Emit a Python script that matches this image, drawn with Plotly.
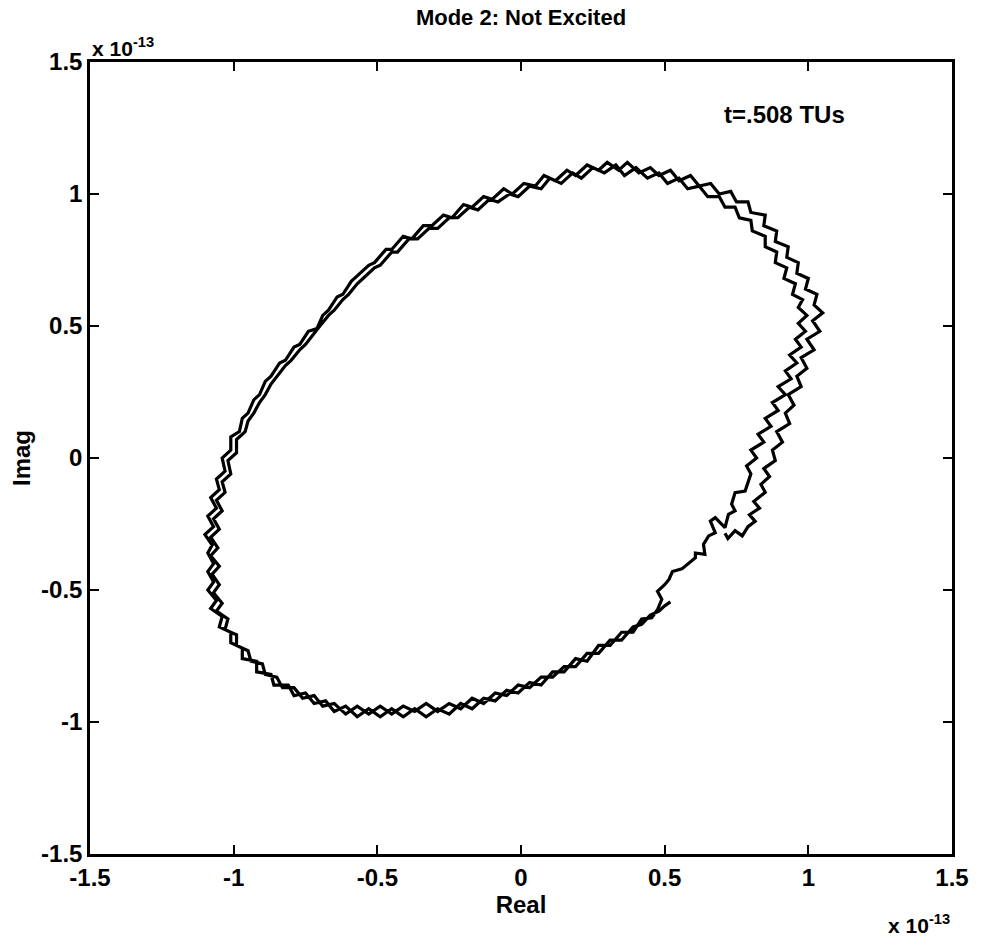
import plotly.graph_objects as go

# trajectory of mode 2 in the complex plane (units of 1e-13)
# first pass, starts at the hook on the lower right and runs counter-clockwise
loop1 = [
    (0.71, -0.285), (0.72, -0.305), (0.745, -0.275), (0.77, -0.295), (0.79, -0.26),
    (0.815, -0.24), (0.795, -0.215), (0.83, -0.19), (0.81, -0.165), (0.85, -0.13),
    (0.835, -0.10), (0.865, -0.07), (0.845, -0.04), (0.885, -0.01), (0.875, 0.03),
    (0.91, 0.06), (0.89, 0.10), (0.935, 0.13), (0.92, 0.17), (0.95, 0.20),
    (0.93, 0.24), (0.975, 0.27), (0.96, 0.31), (0.995, 0.34), (0.975, 0.38),
    (1.02, 0.41), (0.995, 0.45), (1.04, 0.48), (1.015, 0.52), (1.05, 0.55),
    (1.02, 0.58), (1.03, 0.62), (0.99, 0.64), (1.0, 0.68), (0.96, 0.70),
    (0.965, 0.74), (0.925, 0.76), (0.93, 0.80), (0.885, 0.82), (0.89, 0.86),
    (0.845, 0.88), (0.85, 0.92), (0.80, 0.93), (0.79, 0.97), (0.75, 0.97),
    (0.73, 1.01), (0.69, 1.00), (0.66, 1.04), (0.62, 1.03), (0.59, 1.07),
    (0.55, 1.05), (0.52, 1.09), (0.48, 1.07), (0.45, 1.10), (0.41, 1.08),
    (0.37, 1.12), (0.34, 1.09), (0.30, 1.12), (0.27, 1.09), (0.23, 1.11),
    (0.19, 1.07), (0.16, 1.09), (0.12, 1.05), (0.08, 1.07), (0.05, 1.03),
    (0.01, 1.04), (-0.03, 1.00), (-0.06, 1.02), (-0.10, 0.98), (-0.13, 0.99),
    (-0.17, 0.95), (-0.20, 0.96), (-0.24, 0.91), (-0.27, 0.92), (-0.31, 0.88),
    (-0.34, 0.88), (-0.38, 0.83), (-0.41, 0.84), (-0.45, 0.79), (-0.47, 0.79),
    (-0.51, 0.74), (-0.53, 0.73), (-0.57, 0.69), (-0.59, 0.67), (-0.62, 0.62),
    (-0.64, 0.61), (-0.67, 0.56), (-0.69, 0.54), (-0.71, 0.49), (-0.74, 0.48),
    (-0.77, 0.43), (-0.79, 0.42), (-0.82, 0.37), (-0.84, 0.36), (-0.87, 0.31),
    (-0.89, 0.29), (-0.91, 0.24), (-0.93, 0.22), (-0.95, 0.17), (-0.97, 0.15),
    (-0.98, 0.10), (-1.01, 0.08), (-1.01, 0.03), (-1.04, 0.00), (-1.03, -0.05),
    (-1.06, -0.08), (-1.05, -0.12), (-1.08, -0.15), (-1.06, -0.19), (-1.09, -0.22),
    (-1.07, -0.26), (-1.10, -0.29), (-1.075, -0.33), (-1.09, -0.36), (-1.07, -0.40),
    (-1.09, -0.43), (-1.07, -0.47), (-1.09, -0.50), (-1.06, -0.54), (-1.08, -0.57),
    (-1.04, -0.60), (-1.05, -0.64), (-1.01, -0.66), (-1.01, -0.70), (-0.97, -0.72),
    (-0.97, -0.76), (-0.92, -0.77), (-0.92, -0.81), (-0.87, -0.82), (-0.86, -0.86),
    (-0.81, -0.86), (-0.79, -0.90), (-0.75, -0.89), (-0.72, -0.93), (-0.68, -0.92),
    (-0.65, -0.96), (-0.61, -0.94), (-0.57, -0.98), (-0.53, -0.95), (-0.49, -0.98),
    (-0.45, -0.95), (-0.41, -0.98), (-0.37, -0.95), (-0.33, -0.98), (-0.29, -0.95),
    (-0.25, -0.97), (-0.21, -0.93), (-0.17, -0.95), (-0.13, -0.91), (-0.09, -0.92),
    (-0.05, -0.88), (-0.01, -0.89), (0.03, -0.85), (0.07, -0.86), (0.11, -0.81),
    (0.15, -0.81), (0.19, -0.76), (0.23, -0.77), (0.27, -0.71), (0.31, -0.71),
    (0.35, -0.66), (0.39, -0.66), (0.42, -0.61), (0.455, -0.605),
]

# single strand between the passes (lower right)
link = [
    (0.475, -0.575), (0.49, -0.535), (0.475, -0.505), (0.50, -0.48), (0.515, -0.46),
    (0.527, -0.43), (0.56, -0.42),
    (0.607, -0.378), (0.607, -0.36), (0.64, -0.365), (0.635, -0.327), (0.653, -0.295),
    (0.676, -0.283), (0.659, -0.239), (0.676, -0.226), (0.71, -0.264), (0.722, -0.213),
    (0.745, -0.20), (0.733, -0.175), (0.745, -0.131), (0.78, -0.125), (0.79, -0.094),
]

# second pass, ends at the flag near (0.52, -0.55)
loop2 = [
    (0.80, -0.06), (0.785, -0.03), (0.82, 0.00), (0.80, 0.03), (0.845, 0.06),
    (0.825, 0.09), (0.87, 0.12), (0.85, 0.15), (0.895, 0.18), (0.875, 0.21),
    (0.92, 0.24), (0.895, 0.27), (0.94, 0.30), (0.92, 0.33), (0.96, 0.36),
    (0.935, 0.39), (0.975, 0.42), (0.955, 0.45), (0.99, 0.48), (0.965, 0.51),
    (0.995, 0.54), (0.965, 0.57), (0.98, 0.60), (0.945, 0.62), (0.955, 0.66),
    (0.915, 0.68), (0.925, 0.72), (0.885, 0.74), (0.89, 0.78), (0.85, 0.80),
    (0.85, 0.84), (0.805, 0.86), (0.80, 0.90), (0.76, 0.91), (0.745, 0.95),
    (0.71, 0.95), (0.69, 0.99), (0.65, 0.99), (0.62, 1.03), (0.58, 1.02),
    (0.55, 1.06), (0.51, 1.04), (0.48, 1.08), (0.44, 1.06), (0.40, 1.10),
    (0.36, 1.07), (0.33, 1.11), (0.29, 1.08), (0.25, 1.10), (0.21, 1.06),
    (0.18, 1.08), (0.14, 1.04), (0.10, 1.06), (0.07, 1.02), (0.03, 1.03),
    (-0.01, 0.99), (-0.04, 1.00), (-0.08, 0.97), (-0.11, 0.98), (-0.15, 0.94),
    (-0.18, 0.95), (-0.22, 0.91), (-0.25, 0.91), (-0.29, 0.87), (-0.32, 0.87),
    (-0.36, 0.83), (-0.39, 0.83), (-0.43, 0.78), (-0.45, 0.78), (-0.49, 0.73),
    (-0.51, 0.72), (-0.55, 0.68), (-0.57, 0.66), (-0.60, 0.62), (-0.62, 0.60),
    (-0.65, 0.56), (-0.67, 0.54), (-0.70, 0.50), (-0.72, 0.47), (-0.75, 0.43),
    (-0.77, 0.41), (-0.80, 0.37), (-0.82, 0.35), (-0.85, 0.31), (-0.87, 0.28),
    (-0.89, 0.24), (-0.91, 0.21), (-0.93, 0.17), (-0.95, 0.14), (-0.96, 0.10),
    (-0.99, 0.07), (-0.99, 0.02), (-1.02, -0.01), (-1.01, -0.06), (-1.04, -0.09),
    (-1.03, -0.13), (-1.06, -0.16), (-1.04, -0.20), (-1.07, -0.23), (-1.05, -0.27),
    (-1.08, -0.30), (-1.055, -0.34), (-1.08, -0.37), (-1.05, -0.41), (-1.075, -0.44),
    (-1.05, -0.48), (-1.07, -0.51), (-1.04, -0.55), (-1.06, -0.58), (-1.02, -0.61),
    (-1.03, -0.65), (-0.99, -0.67), (-0.99, -0.71), (-0.95, -0.73), (-0.94, -0.77),
    (-0.90, -0.78), (-0.89, -0.82), (-0.85, -0.83), (-0.83, -0.87), (-0.79, -0.87),
    (-0.76, -0.91), (-0.72, -0.90), (-0.69, -0.94), (-0.65, -0.93), (-0.61, -0.97),
    (-0.57, -0.94), (-0.53, -0.97), (-0.49, -0.94), (-0.45, -0.97), (-0.41, -0.94),
    (-0.37, -0.96), (-0.33, -0.93), (-0.29, -0.96), (-0.25, -0.93), (-0.21, -0.95),
    (-0.17, -0.91), (-0.13, -0.93), (-0.09, -0.89), (-0.05, -0.90), (-0.01, -0.86),
    (0.03, -0.87), (0.07, -0.83), (0.11, -0.83), (0.15, -0.79), (0.19, -0.79),
    (0.23, -0.74), (0.27, -0.74), (0.31, -0.69), (0.35, -0.69), (0.39, -0.64),
    (0.42, -0.63), (0.45, -0.595), (0.48, -0.58), (0.50, -0.56), (0.52, -0.545),
]

tick_vals = [-1.5, -1, -0.5, 0, 0.5, 1, 1.5]
tick_text = ["-1.5", "-1", "-0.5", "0", "0.5", "1", "1.5"]

path = loop1 + link + loop2
re = [p[0] for p in path]
im = [p[1] for p in path]

family = "Liberation Sans, Arial, sans-serif"
font = dict(family=family, size=24, color="black", weight="bold")

fig = go.Figure()
fig.add_trace(go.Scatter(x=re, y=im, mode="lines",
                         line=dict(color="black", width=3.2)))

axis = dict(range=[-1.5, 1.5], tickvals=tick_vals, ticktext=tick_text, ticks="inside",
            ticklen=9, tickwidth=2, tickcolor="black", showline=True, linewidth=2.5,
            linecolor="black", mirror="ticks", showgrid=False, zeroline=False,
            tickfont=font)

fig.update_xaxes(**axis, title=dict(text="Real", font=font, standoff=2))
fig.update_yaxes(**axis, title=dict(text="Imag", font=font, standoff=4))

fig.update_layout(
    width=981, height=946,
    margin=dict(l=90, r=22, t=62, b=92),
    plot_bgcolor="white", paper_bgcolor="white",
    showlegend=False,
    font=font,
    title=dict(text="Mode 2: Not Excited", x=0.5, xref="paper", xanchor="center",
               y=0.99, yanchor="top",
               font=dict(family=family, size=22, color="black", weight="bold")),
)

sci = dict(family=family, size=21, color="black", weight="bold")
fig.add_annotation(text="x 10<sup>-13</sup>", xref="paper", yref="paper", x=0.0, y=1.0,
                   xanchor="left", yanchor="bottom", showarrow=False, font=sci)
fig.add_annotation(text="x 10<sup>-13</sup>", xref="paper", yref="paper", x=1.0, y=-0.07,
                   xanchor="right", yanchor="top", showarrow=False, font=sci)
fig.add_annotation(text="t=.508 TUs", x=0.70, y=1.30, xanchor="left", yanchor="middle",
                   showarrow=False, font=font)

# drop the default page margin so the figure sits at the window's top-left corner
fig.write_html("out.html", config={"displayModeBar": False},
               post_script="document.body.style.margin='0';document.body.style.overflow='hidden';")
